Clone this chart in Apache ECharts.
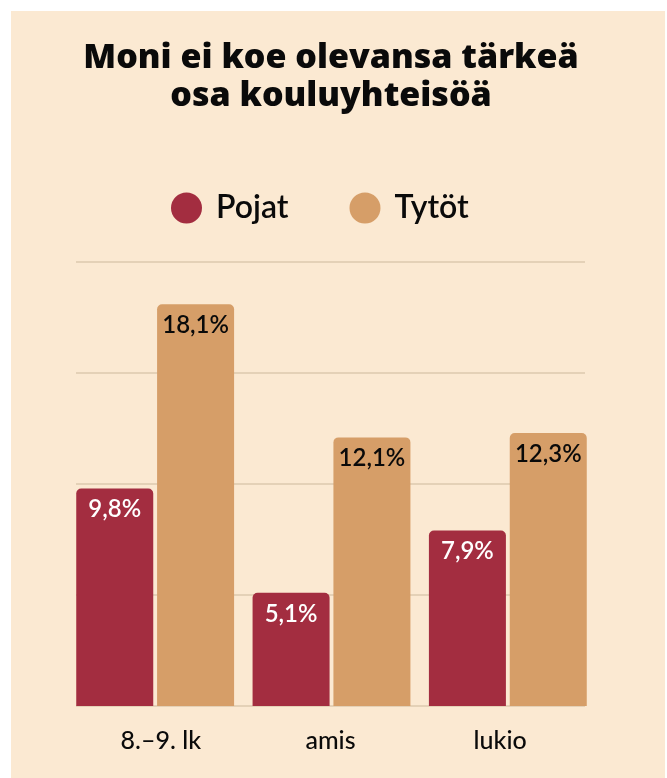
<!DOCTYPE html>
<html>
<head>
<meta charset="utf-8">
<script src="https://cdn.jsdelivr.net/npm/echarts@6/dist/echarts.min.js"></script>
<style>
  html, body { margin: 0; padding: 0; background: #ffffff; }
  #chart { position: absolute; left: 11px; top: 11px; width: 654px; height: 767px; }
</style>
</head>
<body>
<div id="chart"></div>
<script>
var categories = ['8.–9. lk', 'amis', 'lukio'];
var pojat = [9.8, 5.1, 7.9];
var tytot = [18.1, 12.1, 12.3];
var seriesNames = ['Pojat', 'Tytöt'];

var myChart = echarts.init(document.getElementById('chart'));

function pct(p) {
    return String(p.value).replace('.', ',') + '%';
}

var option = {
    backgroundColor: '#fbe9d2',
    title: {
        text: 'Moni ei koe olevansa tärkeä\nosa kouluyhteisöä',
        left: 320,
        top: 28,
        padding: 0,
        textAlign: 'center',
        textStyle: {
            fontFamily: 'Open Sans',
            fontWeight: 800,
            fontSize: 34,
            lineHeight: 38,
            color: '#0a0a0a'
        }
    },
    legend: {
        data: seriesNames,
        left: 160,
        top: 181,
        padding: 0,
        icon: 'circle',
        itemWidth: 31,
        itemHeight: 31,
        itemGap: 61,
        textStyle: {
            fontFamily: 'Lato',
            fontWeight: 600,
            fontSize: 32,
            color: '#0a0a0a',
            padding: [0, 0, 0, 9]
        }
    },
    grid: [
        { left: 65, right: 80, top: 251, bottom: 72 },
        { left: 56, right: 69, top: 251, bottom: 72 }
    ],
    xAxis: [
        {
            type: 'category',
            gridIndex: 0,
            data: categories,
            axisLine: { show: false },
            axisTick: { show: false },
            axisLabel: {
                margin: 22,
                fontFamily: 'Lato',
                fontWeight: 500,
                fontSize: 25,
                color: '#0a0a0a'
            }
        },
        {
            type: 'category',
            gridIndex: 1,
            data: categories,
            show: false
        }
    ],
    yAxis: [
        {
            type: 'value',
            gridIndex: 0,
            min: 0,
            max: 20,
            interval: 5,
            axisLine: { show: false },
            axisTick: { show: false },
            axisLabel: { show: false },
            splitLine: { lineStyle: { color: '#dcc9ae', width: 1.5 } }
        },
        {
            type: 'value',
            gridIndex: 1,
            min: 0,
            max: 20,
            interval: 5,
            show: false,
            splitLine: { show: false }
        }
    ],
    series: [
        {
            name: seriesNames[0],
            type: 'bar',
            xAxisIndex: 1,
            yAxisIndex: 1,
            data: pojat,
            barWidth: 77,
            barGap: '5%',
            itemStyle: { color: '#a32d40', borderRadius: [5, 5, 0, 0] },
            label: {
                show: true,
                position: 'insideTop',
                distance: 9,
                formatter: pct,
                fontFamily: 'Lato',
                fontWeight: 600,
                fontSize: 24,
                color: '#ffffff'
            }
        },
        {
            name: seriesNames[1],
            type: 'bar',
            xAxisIndex: 1,
            yAxisIndex: 1,
            data: tytot,
            barWidth: 77,
            barGap: '5%',
            itemStyle: { color: '#d69e68', borderRadius: [5, 5, 0, 0] },
            label: {
                show: true,
                position: 'insideTop',
                distance: 9,
                formatter: pct,
                fontFamily: 'Lato',
                fontWeight: 600,
                fontSize: 24,
                color: '#0a0a0a'
            }
        }
    ]
};
myChart.setOption(option);
</script>
</body>
</html>
